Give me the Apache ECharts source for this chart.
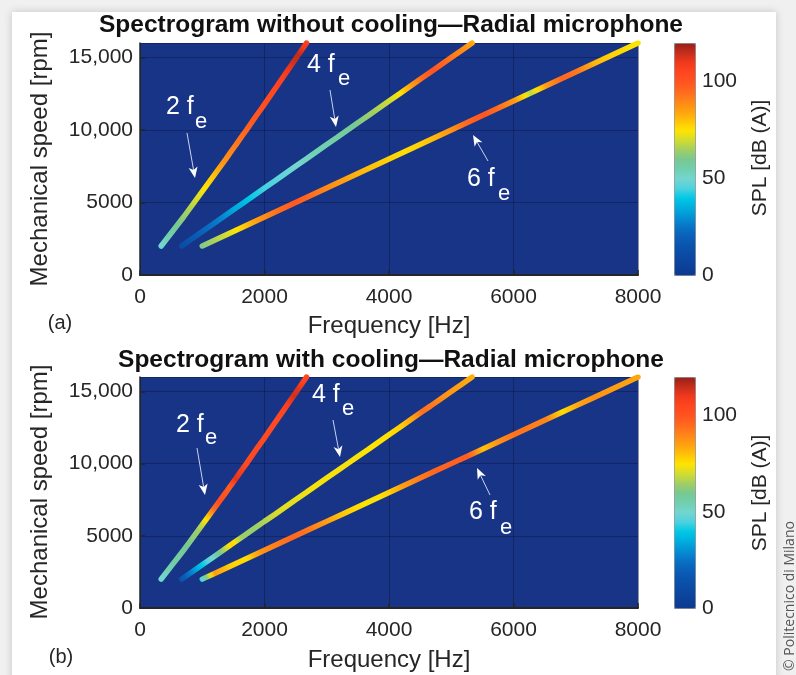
<!DOCTYPE html>
<html>
<head>
<meta charset="utf-8">
<script src="https://cdn.jsdelivr.net/npm/echarts@6/dist/echarts.min.js"></script>
<style>
html,body{margin:0;padding:0;background:#f0f0f0;overflow:hidden;}
#sheet{position:absolute;left:12px;top:12px;width:764px;height:690px;background:#fff;box-shadow:0 0 8px rgba(0,0,0,0.18);}
#main{position:absolute;left:0;top:0;width:796px;height:675px;}
</style>
</head>
<body>
<div id="sheet"></div>
<div id="main"></div>
<script>
// mechanical speed [rpm] where the orders were read
var speed = [2000,2500,3000,3500,4000,4500,5000,5500,6000,6500,7000,7500,8000,8500,9000,9500,10000,10500,11000,11500,12000,12500,13000,13500,14000,14500,15000,15500,16000]
// frequency [Hz] of each order at those speeds
var freq2fe = [340,430,520,610,700,785,870,955,1040,1125,1210,1295,1380,1460,1545,1625,1710,1790,1870,1955,2035,2115,2195,2275,2355,2435,2515,2595,2675]
var freq4fe = [670,835,1000,1170,1335,1500,1670,1835,2000,2170,2335,2500,2670,2835,3000,3170,3335,3500,3670,3835,4000,4170,4335,4500,4670,4835,5000,5170,5335]
var freq6fe = [1000,1250,1500,1750,2000,2250,2500,2750,3000,3250,3500,3750,4000,4250,4500,4750,5000,5250,5500,5750,6000,6250,6500,6750,7000,7250,7500,7750,8000]
// SPL [dB(A)] along each order, without cooling (a)
var splNoCool2fe = [48,52,56,59,62,65,68,71,74,77,80,84,88,90,92,94,96,98,100,101,103,104,106,107,110,114,116,110,106]
var splNoCool4fe = [10,15,20,24,28,33,37,41,44,46,48,50,52,54,55,57,58,61,64,67,70,76,86,95,100,96,92,88,82]
var splNoCool6fe = [60,66,72,80,88,94,99,95,90,86,82,80,78,76,78,82,88,96,100,94,86,68,86,96,92,82,78,76,74]
// SPL [dB(A)] along each order, with cooling (b)
var splCool2fe = [48,52,55,57,58,60,62,64,70,80,95,102,100,98,112,108,104,104,104,104,104,104,104,105,108,114,112,106,104]
var splCool4fe = [12,25,38,48,62,78,64,64,66,70,72,72,73,74,74,74,74,74,75,75,76,78,84,94,92,88,86,84,82]
var splCool6fe = [40,86,78,76,88,92,96,92,86,80,76,74,78,86,92,96,97,98,80,88,94,92,90,76,84,88,86,85,84]

var freqTicks = [0,2000,4000,6000,8000]
var freqTickLabels = ['0','2000','4000','6000','8000']
var speedTicks = [0,5000,10000,15000]
var speedTickLabels = ['0','5000','10,000','15,000']
var splTicks = [0,50,100]
// colormap, 0..120 dB(A) in 5 dB steps
var jetColors = ['#0c3a8f','#0c419a','#0b4aa3','#0a53ad','#0a5fb8','#0873c6','#058fd4','#00aede','#00c8e6','#4ed2de','#74d6d0','#70cfae','#78c890','#a2cf62','#d2dc30','#ffe400','#ffc208','#ffa010','#ff8618','#ff6a1e','#ff5420','#ff4620','#f23a1c','#c82e1c','#962018']

var FONT = '"Liberation Sans", Arial, sans-serif'
var INK = '#262626'

function hexRgb(h){
	return [parseInt(h.substr(1,2),16),parseInt(h.substr(3,2),16),parseInt(h.substr(5,2),16)]
}
function splColor(v){
	var p = Math.max(0,Math.min(120,v))/5
	var i = Math.floor(p), f = p-i
	if(i>=jetColors.length-1) return jetColors[jetColors.length-1]
	var a = hexRgb(jetColors[i]), b = hexRgb(jetColors[i+1])
	return 'rgb('+Math.round(a[0]+(b[0]-a[0])*f)+','+Math.round(a[1]+(b[1]-a[1])*f)+','+Math.round(a[2]+(b[2]-a[2])*f)+')'
}
function lineGradient(spl){   // colour runs from low speed (bottom-left) to high speed (top-right)
	var stops = []
	var n0 = speed[0], n1 = speed[speed.length-1]
	for(var i=0;i<speed.length-1;i++){
		for(var k=0;k<6;k++){
			var t = k/6
			stops.push({offset:(speed[i]+(speed[i+1]-speed[i])*t-n0)/(n1-n0), color:splColor(spl[i]+(spl[i+1]-spl[i])*t)})
		}
	}
	stops.push({offset:1,color:splColor(spl[spl.length-1])})
	return new echarts.graphic.LinearGradient(0,1,1,0,stops)
}
function orderSeries(idx,freq,spl){
	return {
		type:'line', xAxisIndex:idx, yAxisIndex:idx,
		data: speed.map(function(n,i){return [freq[i],n]}),
		symbol:'none', silent:true, z:3,
		lineStyle:{width:5.5,color:lineGradient(spl),cap:'round'}
	}
}
function plotX(idx){
	return {
		gridIndex:idx, type:'value', min:0, max:8000, interval:2000,
		axisLine:{onZero:false,lineStyle:{color:INK,width:2}},
		axisTick:{inside:true,length:5,lineStyle:{color:INK,width:1.5}},
		axisLabel:{fontSize:21,color:INK,fontFamily:FONT,margin:12,
			formatter:function(v){var j=freqTicks.indexOf(v);return j<0?'':freqTickLabels[j]}},
		splitLine:{show:true,lineStyle:{color:'rgba(10,20,60,0.45)',width:1}}
	}
}
function plotY(idx){
	return {
		gridIndex:idx, type:'value', min:0, max:16000, interval:5000,
		axisLine:{show:true,onZero:false,lineStyle:{color:INK,width:1.5}},
		axisTick:{inside:true,length:5,lineStyle:{color:INK,width:1.5}},
		axisLabel:{fontSize:21,color:INK,fontFamily:FONT,margin:7,showMaxLabel:false,
			formatter:function(v){var j=speedTicks.indexOf(v);return j<0?'':speedTickLabels[j]}},
		splitLine:{show:true,lineStyle:{color:'rgba(10,20,60,0.45)',width:1}}
	}
}
function barX(idx){
	return {gridIndex:idx,type:'value',min:0,max:1,show:false}
}
function barY(idx){
	return {
		gridIndex:idx, type:'value', position:'right', min:0, max:120, interval:50,
		axisLine:{show:false},
		axisTick:{show:false},
		axisLabel:{fontSize:21,color:INK,fontFamily:FONT,margin:7,showMaxLabel:false,
			formatter:function(v){return splTicks.indexOf(v)<0?'':String(v)}},
		splitLine:{show:false}
	}
}
function arrow(x1,y1,x2,y2){
	var a = Math.atan2(y2-y1,x2-x1), L = 11, W = 4.5
	var c = Math.cos(a), s = Math.sin(a)
	var bx = x2-L*c, by = y2-L*s
	return [
		{type:'line',z:100,shape:{x1:x1,y1:y1,x2:bx+3*c,y2:by+3*s},style:{stroke:'#c9d3ee',lineWidth:1}},
		{type:'polygon',z:100,shape:{points:[[x2,y2],[bx-s*W,by+c*W],[bx+3*c,by+3*s],[bx+s*W,by-c*W]]},style:{fill:'#fff'}}
	]
}
function orderLabel(t,x,y,ex,ey){
	return [
		{type:'text',z:100,x:x,y:y,style:{text:t,fill:'#fff',fontSize:25,fontFamily:FONT,verticalAlign:'middle'}},
		{type:'text',z:100,x:ex,y:ey,style:{text:'e',fill:'#fff',fontSize:22,fontFamily:FONT,verticalAlign:'middle'}}
	]
}
function txt(t,x,y,opt){
	return {type:'text',z:50,x:x,y:y,rotation:opt.rot||0,
		style:{text:t,fill:opt.color||INK,fontSize:opt.size,fontWeight:opt.weight||'normal',fontFamily:opt.family||FONT,align:'center',verticalAlign:'middle'}}
}

var graphics = [].concat(
	[txt('Spectrogram without cooling\u2014Radial microphone',391,25,{size:24.5,weight:'bold',color:'#111'}),
	 txt('Spectrogram with cooling\u2014Radial microphone',391,360,{size:24.5,weight:'bold',color:'#111'}),
	 txt('Mechanical speed [rpm]',40,159,{size:24,rot:Math.PI/2}),
	 txt('Mechanical speed [rpm]',40,492,{size:24,rot:Math.PI/2}),
	 txt('Frequency [Hz]',389,326,{size:24}),
	 txt('Frequency [Hz]',389,660,{size:24}),
	 txt('SPL [dB (A)]',760,158,{size:21,rot:Math.PI/2}),
	 txt('SPL [dB (A)]',760,493,{size:21,rot:Math.PI/2}),
	 txt('(a)',60,323,{size:20}),
	 txt('(b)',61,657,{size:20}),
	 txt('\u00a9 Politecnico di Milano',790,596,{size:14,rot:Math.PI/2,color:'#555',family:'"Open Sans", sans-serif'})],
	orderLabel('2 f',166,107,195,122), arrow(187,133,195,178),
	orderLabel('4 f',307,65,338,79), arrow(330,90,336,127),
	orderLabel('6 f',467,179,498,194), arrow(488,161,473,135),
	orderLabel('2 f',176,425,205,438), arrow(197,448,205,495),
	orderLabel('4 f',312,395,342,409), arrow(333,420,340,457),
	orderLabel('6 f',469,512,500,528), arrow(490,495,477,468)
)

var option = {
	animation:false,
	backgroundColor:'transparent',
	textStyle:{fontFamily:FONT},
	grid:[
		{left:140,top:43,width:498,height:232,show:true,backgroundColor:'#183487',borderWidth:0},
		{left:140,top:377,width:498,height:231,show:true,backgroundColor:'#183487',borderWidth:0},
		{left:674,top:43,width:21,height:232},
		{left:674,top:377,width:21,height:231}
	],
	xAxis:[plotX(0),plotX(1),barX(2),barX(3)],
	yAxis:[plotY(0),plotY(1),barY(2),barY(3)],
	visualMap:[
		{type:'continuous',min:0,max:120,seriesIndex:6,left:674,top:43,itemWidth:21,itemHeight:232,
		 padding:0,text:null,calculable:false,hoverLink:false,borderColor:'#8a8a8a',borderWidth:1,inRange:{color:jetColors}},
		{type:'continuous',min:0,max:120,seriesIndex:7,left:674,top:377,itemWidth:21,itemHeight:231,
		 padding:0,text:null,calculable:false,hoverLink:false,borderColor:'#8a8a8a',borderWidth:1,inRange:{color:jetColors}}
	],
	series:[
		orderSeries(0,freq2fe,splNoCool2fe),
		orderSeries(0,freq4fe,splNoCool4fe),
		orderSeries(0,freq6fe,splNoCool6fe),
		orderSeries(1,freq2fe,splCool2fe),
		orderSeries(1,freq4fe,splCool4fe),
		orderSeries(1,freq6fe,splCool6fe),
		{type:'scatter',xAxisIndex:2,yAxisIndex:2,data:[]},
		{type:'scatter',xAxisIndex:3,yAxisIndex:3,data:[]}
	],
	graphic:graphics
}
var myChart = echarts.init(document.getElementById('main'))
myChart.setOption(option)
</script>
</body>
</html>
